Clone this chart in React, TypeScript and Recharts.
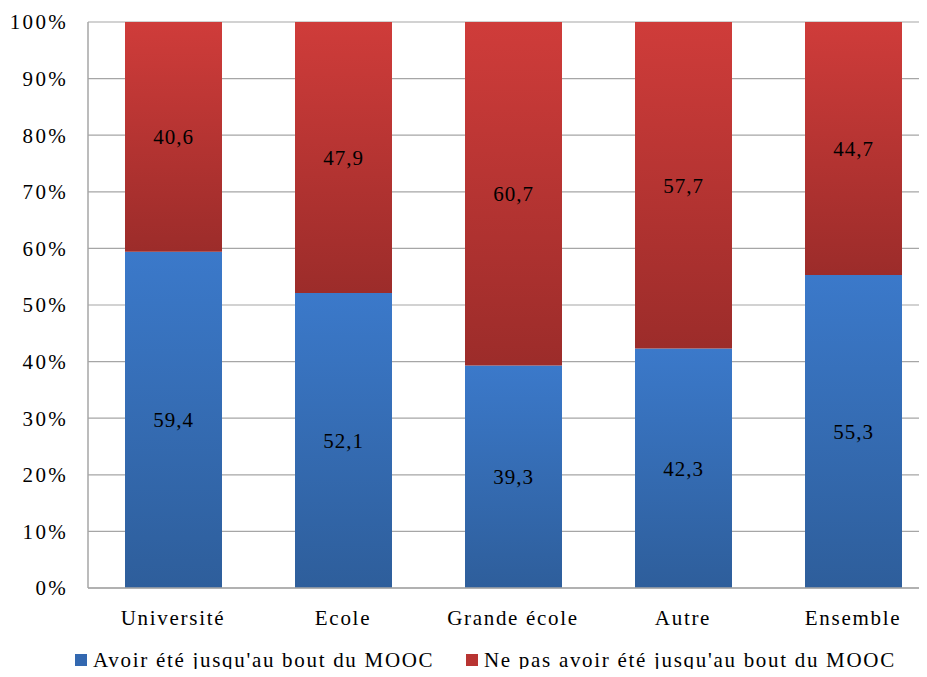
import React from 'react';
import {
  BarChart,
  Bar,
  XAxis,
  YAxis,
  CartesianGrid,
  LabelList,
} from 'recharts';

const categories = ['Université', 'Ecole', 'Grande école', 'Autre', 'Ensemble'];
const completed = [59.4, 52.1, 39.3, 42.3, 55.3];
const notCompleted = [40.6, 47.9, 60.7, 57.7, 44.7];
const yTicks = [0, 10, 20, 30, 40, 50, 60, 70, 80, 90, 100];

const data = categories.map((name, i) => ({
  name,
  completed: completed[i],
  notCompleted: notCompleted[i],
}));

const FONT = 'Liberation Serif';

const fmt = (v: number) => String(v).replace('.', ',');

const legendItems = [
  { label: "Avoir été jusqu'au bout du MOOC", color: '#3368b0', left: 75 },
  { label: "Ne pas avoir été jusqu'au bout du MOOC", color: '#b83432', left: 466 },
];

// legend drawn by hand so it sits right at the bottom edge like the original
const ChartLegend = () => (
  <div style={{ position: 'absolute', left: 0, top: 648, width: 927, height: 24, fontFamily: FONT, fontSize: 21, lineHeight: '24px', letterSpacing: 1.7, color: '#000' }}>
    {legendItems.map((it) => (
      <div key={it.label} style={{ position: 'absolute', left: it.left, top: 0, display: 'flex', alignItems: 'center', whiteSpace: 'nowrap' }}>
        <span style={{ display: 'inline-block', width: 12, height: 12, background: it.color, marginRight: 6 }} />
        <span>{it.label}</span>
      </div>
    ))}
  </div>
);

const App: React.FC = () => {
  return (
    <div style={{ position: 'relative', width: 927, height: 677, overflow: 'hidden', margin: -8, background: '#fff', fontFamily: FONT }}>
      <BarChart
        width={940}
        height={677}
        data={data}
        margin={{ top: 22, right: 2, bottom: 42, left: 0 }}
      >
        <defs>
          <linearGradient id="blueGrad" x1="0" y1="0" x2="0" y2="1">
            <stop offset="0%" stopColor="#3b79ca" />
            <stop offset="100%" stopColor="#2e5e9b" />
          </linearGradient>
          <linearGradient id="redGrad" x1="0" y1="0" x2="0" y2="1">
            <stop offset="0%" stopColor="#cf3c3a" />
            <stop offset="100%" stopColor="#9c2c2a" />
          </linearGradient>
        </defs>
        <CartesianGrid vertical={false} stroke="#a6a6a6" strokeWidth={1.2} />
        <XAxis
          dataKey="name"
          height={47}
          axisLine={{ stroke: '#a6a6a6', strokeWidth: 1.5 }}
          tickLine={false}
          tick={{ fill: '#000', fontSize: 21, fontFamily: FONT, letterSpacing: 1.7 }}
          tickMargin={16}
        />
        <YAxis
          width={88}
          domain={[0, 100]}
          ticks={yTicks}
          tickFormatter={(v: number) => `${v}%`}
          axisLine={{ stroke: '#a6a6a6', strokeWidth: 1.5 }}
          tickLine={false}
          tick={{ fill: '#000', fontSize: 21, fontFamily: FONT, letterSpacing: 2.3 }}
          tickMargin={14}
        />
        <Bar
          dataKey="completed"
          name="Avoir été jusqu'au bout du MOOC"
          stackId="a"
          fill="url(#blueGrad)"
          barSize={97}
          isAnimationActive={false}
        >
          <LabelList dataKey="completed" position="center" formatter={fmt} fill="#000" fontSize={21} fontFamily={FONT} letterSpacing={1} />
        </Bar>
        <Bar
          dataKey="notCompleted"
          name="Ne pas avoir été jusqu'au bout du MOOC"
          stackId="a"
          fill="url(#redGrad)"
          barSize={97}
          isAnimationActive={false}
        >
          <LabelList dataKey="notCompleted" position="center" formatter={fmt} fill="#000" fontSize={21} fontFamily={FONT} letterSpacing={1} />
        </Bar>
      </BarChart>
      <ChartLegend />
    </div>
  );
};

export default App;
